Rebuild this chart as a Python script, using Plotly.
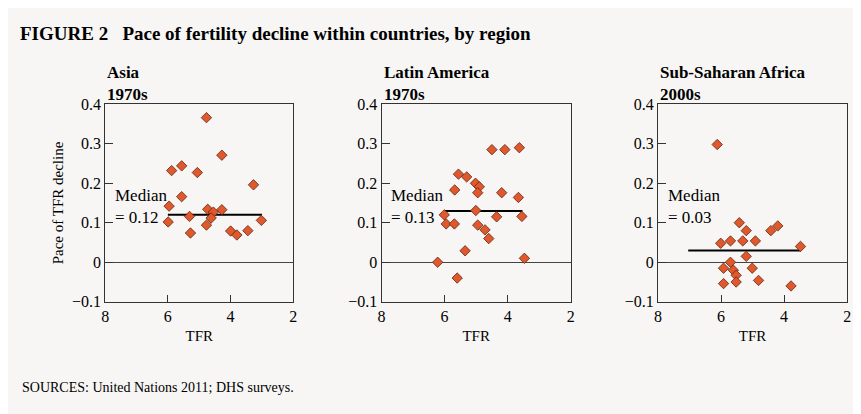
import plotly.graph_objects as go

asia_tfr = [4.77,4.28,5.88,5.56,5.06,3.27,5.56,5.96,5.99,5.31,5.28,4.77,4.73,4.55,4.62,4.28,4.0,3.80,3.45,3.02]
asia_pace = [0.366,0.271,0.232,0.244,0.227,0.196,0.166,0.142,0.102,0.116,0.074,0.094,0.134,0.127,0.112,0.133,0.079,0.069,0.080,0.106]
la_tfr = [4.5,4.09,3.63,5.56,5.30,5.02,4.90,5.68,4.95,4.19,3.66,6.01,5.01,4.35,3.55,5.95,5.69,4.95,4.72,4.60,5.35,6.22,3.47,5.60]
la_pace = [0.285,0.285,0.290,0.223,0.216,0.200,0.191,0.183,0.176,0.176,0.164,0.120,0.131,0.115,0.116,0.097,0.097,0.094,0.082,0.060,0.029,0.0,0.010,-0.040]
ssa_tfr = [6.12,5.42,5.20,4.42,4.20,6.01,5.70,5.31,4.91,3.48,5.20,5.70,5.92,5.61,5.52,5.01,4.81,5.92,5.52,3.78]
ssa_pace = [0.298,0.1,0.080,0.080,0.092,0.048,0.054,0.054,0.054,0.040,0.015,0.0,-0.015,-0.020,-0.033,-0.015,-0.046,-0.054,-0.050,-0.060]

regions = ["Asia", "Latin America", "Sub-Saharan Africa"]
periods = ["1970s", "1970s", "2000s"]
medians = [0.12, 0.13, 0.03]
median_spans = [(6.0, 3.0), (6.0, 3.53), (7.04, 3.47)]
xs = [asia_tfr, la_tfr, ssa_tfr]
ys = [asia_pace, la_pace, ssa_pace]

W, H = 861, 414
doms = [(94, 284), (373, 564), (652, 843)]
ydom = [1 - 298 / H, 1 - 92 / H]
FONT = "Liberation Serif"
fig = go.Figure()
for i in range(3):
    sfx = "" if i == 0 else str(i + 1)
    xa, ya = "x" + sfx, "y" + sfx
    fig.add_trace(go.Scatter(x=[median_spans[i][0], median_spans[i][1]], y=[medians[i]] * 2, mode="lines",
                             line=dict(color="black", width=2), xaxis=xa, yaxis=ya, showlegend=False))
    fig.add_trace(go.Scatter(x=xs[i], y=ys[i], mode="markers", xaxis=xa, yaxis=ya, showlegend=False,
                             marker=dict(symbol="diamond", size=8, color="#E0582B", line=dict(color="#5a2a14", width=0.8))))
    fig.layout["xaxis" + sfx] = dict(domain=[doms[i][0] / W, doms[i][1] / W], range=[8, 2], anchor=ya,
                                     tickvals=[8, 6, 4, 2], ticks="inside", ticklen=7, tickcolor="#333",
                                     showline=True, linecolor="#333", mirror=True, showgrid=False, zeroline=False,
                                     title=dict(text="TFR", font=dict(size=15, family=FONT), standoff=6),
                                     tickfont=dict(size=16, family=FONT, color="black"))
    fig.layout["yaxis" + sfx] = dict(domain=ydom, range=[-0.1, 0.4], anchor=xa, tickvals=[-0.1, 0, 0.1, 0.2, 0.3, 0.4],
                                     ticktext=["\u22120.1", "0", "0.1", "0.2", "0.3", "0.4"],
                                     ticks="inside", ticklen=8, tickcolor="#333",
                                     showline=True, linecolor="#333", mirror=True, showgrid=False,
                                     zeroline=True, zerolinecolor="#444", zerolinewidth=1,
                                     tickfont=dict(size=16, family=FONT, color="black"))
    fig.add_annotation(x=doms[i][0] / W, y=1 - 70 / H, xref="paper", yref="paper", xanchor="left", yanchor="middle",
                       align="left", showarrow=False, text="<b>%s<br>%s</b>" % (regions[i], periods[i]),
                       font=dict(size=17, family=FONT, color="black"))
    fig.add_annotation(x=7.75, y=0.14, xref=xa, yref=ya, xanchor="left", yanchor="middle", align="left",
                       showarrow=False, text="Median<br>= %.2f" % medians[i],
                       font=dict(size=17, family=FONT, color="black"))

fig.layout.yaxis.title = dict(text="Pace of TFR decline", font=dict(size=15, family=FONT), standoff=4)
fig.add_annotation(x=6 / W, y=1 - 18 / H, xref="paper", yref="paper", xanchor="left", yanchor="middle",
                   showarrow=False, text="<b>FIGURE 2   Pace of fertility decline within countries, by region</b>",
                   font=dict(size=19, family=FONT, color="black"))
fig.add_annotation(x=8 / W, y=1 - 387 / H, xref="paper", yref="paper", xanchor="left", yanchor="middle",
                   showarrow=False, text="SOURCES: United Nations 2011; DHS surveys.",
                   font=dict(size=14, family=FONT, color="black"))
fig.update_layout(width=W, height=H, margin=dict(l=0, r=0, t=0, b=0), plot_bgcolor="#f7f6f5",
                  paper_bgcolor="#f7f6f5", font=dict(family=FONT, color="black"))
fig.write_html("out.html")
